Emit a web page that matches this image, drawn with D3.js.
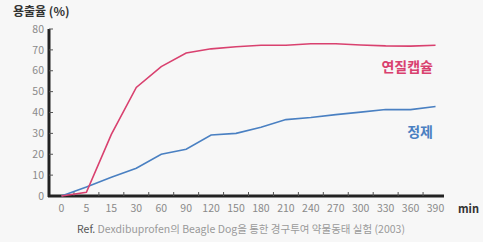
<!DOCTYPE html>
<html>
<head>
<meta charset="utf-8">
<script src="https://cdn.jsdelivr.net/npm/d3@7"></script>
<style>
  body { margin: 0; background: #f7f7f7; }
  svg { display: block; font-family: "Noto Sans CJK KR", "Noto Sans", sans-serif; }
</style>
</head>
<body>
<svg id="chart" width="483" height="242"></svg>
<script>
var minutes = ["0", "5", "15", "30", "60", "90", "120", "150", "180", "210", "240", "270", "300", "330", "360", "390"];
var softCapsule = [0, 1.8, 29.5, 52, 62, 68.5, 70.5, 71.5, 72.2, 72.2, 72.9, 72.9, 72.3, 71.9, 71.8, 72.2];
var tablet = [0, 4.3, 9, 13.3, 20, 22.4, 29.2, 30, 32.9, 36.6, 37.6, 39, 40.2, 41.4, 41.4, 42.9];
var yTicks = [0, 10, 20, 30, 40, 50, 60, 70, 80];

var svg = d3.select("#chart");

var x = d3.scaleBand().domain(minutes).range([49, 448]);
var y = d3.scaleLinear().domain([0, 80]).range([196, 29]);
var cx = function(d) { return x(d) + x.bandwidth() / 2; };

// x axis
var xAxis = svg.append("g").attr("transform", "translate(0,196)");
xAxis.append("line")
    .attr("x1", 48).attr("x2", 444)
    .attr("stroke", "#222").attr("stroke-width", 3);
xAxis.selectAll(".tick")
    .data(minutes.slice(1))
    .enter().append("line")
    .attr("x1", function(d) { return x(d); })
    .attr("x2", function(d) { return x(d); })
    .attr("y1", -4).attr("y2", 0)
    .attr("stroke", "#555").attr("stroke-width", 1);
xAxis.selectAll("text")
    .data(minutes)
    .enter().append("text")
    .attr("x", cx)
    .attr("y", 16)
    .attr("text-anchor", "middle")
    .attr("fill", "#8a8a8a")
    .attr("font-size", 10.5)
    .text(function(d) { return d; });

// y axis
var yAxis = svg.append("g");
yAxis.append("line")
    .attr("x1", 49).attr("x2", 49)
    .attr("y1", y(80)).attr("y2", 197)
    .attr("stroke", "#222").attr("stroke-width", 3);
yAxis.selectAll(".tick")
    .data(yTicks.slice(1))
    .enter().append("line")
    .attr("x1", 49).attr("x2", 53)
    .attr("y1", function(d) { return y(d); })
    .attr("y2", function(d) { return y(d); })
    .attr("stroke", "#555");
yAxis.selectAll("text")
    .data(yTicks)
    .enter().append("text")
    .attr("x", 44)
    .attr("y", function(d) { return y(d); })
    .attr("dy", "0.35em")
    .attr("text-anchor", "end")
    .attr("fill", "#8a8a8a")
    .attr("font-size", 10.5)
    .text(function(d) { return d; });

// lines
var line = d3.line()
    .x(function(d, i) { return cx(minutes[i]); })
    .y(function(d) { return y(d); });

svg.append("path")
    .datum(tablet)
    .attr("d", line)
    .attr("fill", "none")
    .attr("stroke", "#4a80c2")
    .attr("stroke-width", 1.6);

svg.append("path")
    .datum(softCapsule)
    .attr("d", line)
    .attr("fill", "none")
    .attr("stroke", "#d9416f")
    .attr("stroke-width", 1.6);

// labels
svg.append("text")
    .attr("x", 433).attr("y", 72)
    .attr("text-anchor", "end")
    .attr("fill", "#d9416f")
    .attr("font-size", 14).attr("font-weight", "bold")
    .text("연질캡슐");

svg.append("text")
    .attr("x", 433).attr("y", 137)
    .attr("text-anchor", "end")
    .attr("fill", "#4a80c2")
    .attr("font-size", 14).attr("font-weight", "bold")
    .text("정제");

svg.append("text")
    .attr("x", 13).attr("y", 16)
    .attr("fill", "#333")
    .attr("font-size", 12).attr("font-weight", "bold")
    .text("용출율 (%)");

svg.append("text")
    .attr("x", 458).attr("y", 213)
    .attr("fill", "#333")
    .attr("font-size", 11).attr("font-weight", "bold")
    .text("min");

var cap = svg.append("text")
    .attr("x", 241).attr("y", 233)
    .attr("text-anchor", "middle")
    .attr("font-size", 10.5)
    .attr("fill", "#9a9a9a");
cap.append("tspan").attr("fill", "#555").text("Ref. ");
cap.append("tspan").text("Dexdibuprofen의 Beagle Dog을 통한 경구투여 약물동태 실험 (2003)");
</script>
</body>
</html>
